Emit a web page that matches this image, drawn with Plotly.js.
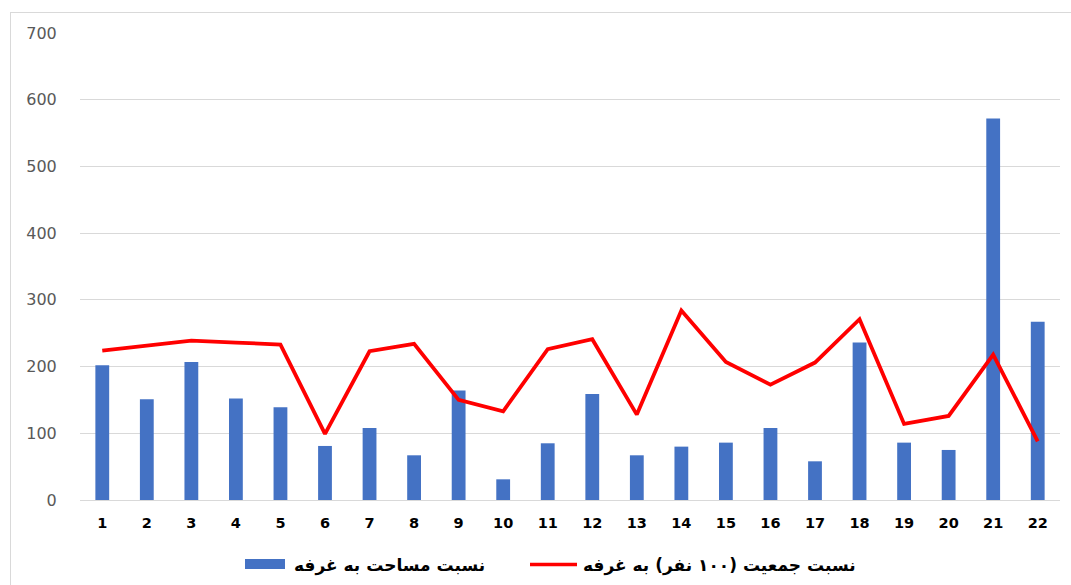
<!DOCTYPE html>
<html>
<head>
<meta charset="utf-8">
<script src="https://cdn.plot.ly/plotly-3.0.1.min.js"></script>
<style>
html,body{margin:0;padding:0;background:#fff;overflow:hidden;}
#frame{position:absolute;left:10px;top:12px;width:1075px;height:590px;border:1px solid #d9d9d9;box-sizing:border-box;}
#chart{position:absolute;left:0;top:0;width:1071px;height:585px;}
</style>
</head>
<body>
<div id="frame"></div>
<div id="chart"></div>
<script>
const categories = ["1","2","3","4","5","6","7","8","9","10","11","12","13","14","15","16","17","18","19","20","21","22"];
const areaPerBooth = [202,151,207,152,139,81,108,67,164,31,85,159,67,80,86,108,58,236,86,75,572,267];
const popPerBooth = [224,232,239,236,233,99,223,234,150,133,226,241,128,284,207,173,206,271,114,126,218,88];
const seriesNames = ["نسبت مساحت به غرفه", "نسبت جمعیت (۱۰۰ نفر) به غرفه"];
const yTicks = [0,100,200,300,400,500,600,700];

const W = 1071, H = 585;
const M = {l: 80, r: 11, t: 33, b: 85};
const PW = W - M.l - M.r, PH = H - M.t - M.b;
const px = v => (v - M.l) / PW;           // pixel x -> paper x
const py = v => (H - M.b - v) / PH;       // pixel y -> paper y

const BAR_COLOR = '#4472C4';
const LINE_COLOR = '#FF0000';

const traces = [
  {
    type: 'bar',
    name: seriesNames[0],
    x: categories,
    y: areaPerBooth,
    marker: {color: BAR_COLOR},
    width: 0.31,
    showlegend: false
  },
  {
    type: 'scatter',
    mode: 'lines',
    name: seriesNames[1],
    x: categories,
    y: popPerBooth,
    line: {color: LINE_COLOR, width: 3.8},
    showlegend: false
  }
];

const legendFont = {family: 'DejaVu Sans, sans-serif', size: 17, color: '#000000', weight: 'bold'};

const layout = {
  width: W,
  height: H,
  margin: M,
  paper_bgcolor: 'rgba(0,0,0,0)',
  plot_bgcolor: 'rgba(0,0,0,0)',
  showlegend: false,
  xaxis: {
    type: 'category',
    tickfont: {family: 'DejaVu Sans, sans-serif', size: 14.5, color: '#000000', weight: 'bold'},
    showgrid: false,
    showline: true,
    linecolor: '#d9d9d9',
    linewidth: 1,
    ticks: 'outside',
    ticklen: 10,
    tickcolor: 'rgba(0,0,0,0)',
    fixedrange: true
  },
  yaxis: {
    range: [0, 700],
    tickvals: yTicks,
    ticktext: yTicks.map(String),
    tickfont: {family: 'DejaVu Sans, sans-serif', size: 16, color: '#595959'},
    showgrid: true,
    gridcolor: '#d9d9d9',
    gridwidth: 1,
    zeroline: false,
    showline: false,
    ticks: 'outside',
    ticklen: 19,
    tickcolor: 'rgba(0,0,0,0)',
    fixedrange: true
  },
  shapes: [
    {type: 'rect', xref: 'paper', yref: 'paper',
     x0: px(245), x1: px(285), y0: py(569), y1: py(559),
     fillcolor: BAR_COLOR, line: {width: 0}},
    {type: 'line', xref: 'paper', yref: 'paper',
     x0: px(530), x1: px(577), y0: py(564.5), y1: py(564.5),
     line: {color: LINE_COLOR, width: 3.5}}
  ],
  annotations: [
    {xref: 'paper', yref: 'paper', x: px(487), y: py(565), xanchor: 'right', yanchor: 'middle',
     text: seriesNames[0], showarrow: false, font: legendFont},
    {xref: 'paper', yref: 'paper', x: px(858), y: py(565), xanchor: 'right', yanchor: 'middle',
     text: seriesNames[1], showarrow: false, font: legendFont}
  ]
};

Plotly.newPlot('chart', traces, layout, {displayModeBar: false, staticPlot: true});
</script>
</body>
</html>
